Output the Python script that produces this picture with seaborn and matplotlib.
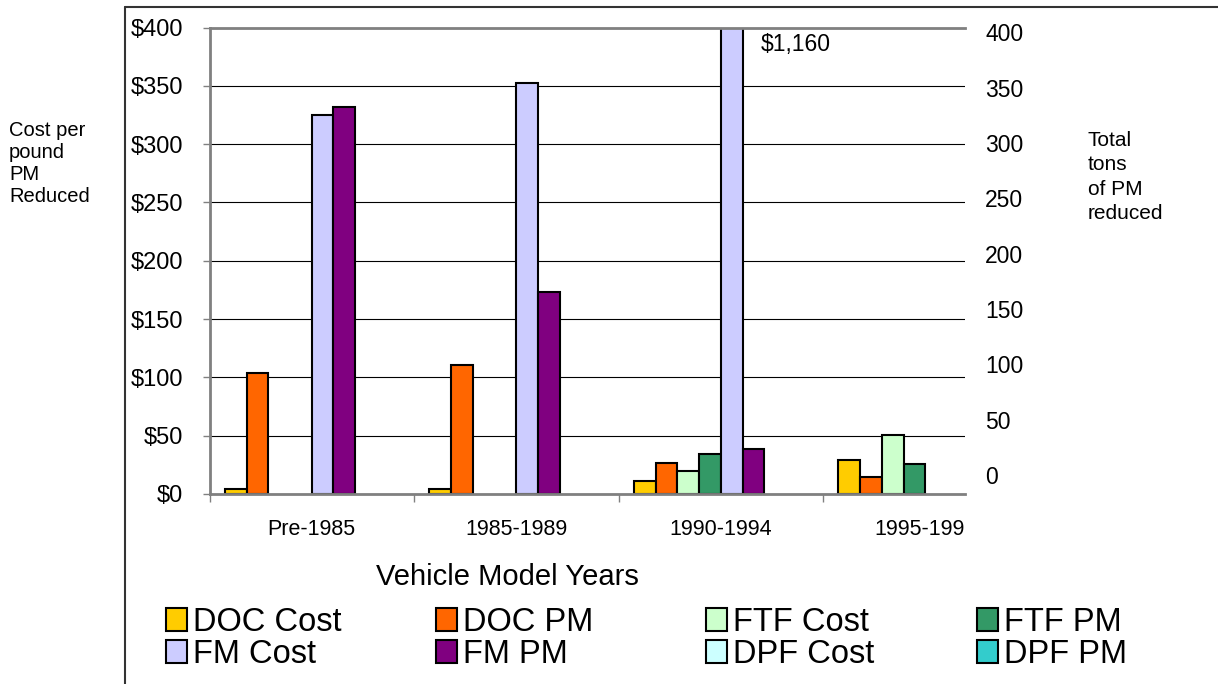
import numpy as np
import pandas as pd
import matplotlib
matplotlib.use("Agg")
import matplotlib.pyplot as plt
from matplotlib.patches import Patch
from matplotlib.lines import Line2D
from matplotlib.ticker import FixedLocator, FuncFormatter
from matplotlib.transforms import Bbox, TransformedBbox
import seaborn as sns

years = ["Pre-1985", "1985-1989", "1990-1994", "1995-1999"]
series = ["DOC Cost", "DOC PM", "FTF Cost", "FTF PM", "FM Cost", "FM PM", "DPF Cost", "DPF PM"]
colors = ["#FFCC00", "#FF6600", "#CCFFCC", "#339966", "#CCCCFF", "#800080", "#CCFFFF", "#33CCCC"]

doc_cost = [4, 4, 11, 29]
doc_pm = [104, 111, 27, 15]
ftf_cost = [np.nan, np.nan, 20, 51]
ftf_pm = [np.nan, np.nan, 34, 26]
fm_cost = [325, 352, 1160, np.nan]
fm_pm = [332, 173, 39, np.nan]
dpf_cost = [np.nan] * 4
dpf_pm = [np.nan] * 4

cost_ticks = list(range(0, 401, 50))
tons_ticks = list(range(0, 401, 50))

values = [doc_cost, doc_pm, ftf_cost, ftf_pm, fm_cost, fm_pm, dpf_cost, dpf_pm]
df = (pd.DataFrame(dict(zip(series, values)), index=years)
      .rename_axis("years").reset_index()
      .melt(id_vars="years", var_name="series", value_name="value")
      .dropna())

sns.set_style("white")
plt.rcParams["font.family"] = ["Liberation Sans", "DejaVu Sans"]
plt.rcParams.update({"text.color": "black", "axes.labelcolor": "black",
                     "xtick.color": "black", "ytick.color": "black"})

W, H = 1218, 684
fig = plt.figure(figsize=(W / 100, H / 100), dpi=100)
ax_left, ax_right, ax_top, ax_bottom = 209.5 / W, 965 / W, 1 - 27.5 / H, 1 - 494 / H
ax = fig.add_axes([ax_left, ax_bottom, ax_right - ax_left, ax_top - ax_bottom])

sns.barplot(data=df, x="years", y="value", hue="series", order=years, hue_order=series,
            palette=colors, saturation=1, width=0.85, gap=0, errorbar=None,
            edgecolor="black", linewidth=1.5, legend=False, ax=ax)

ax.set_xlim(-0.5, 3.194)
ax.set_ylim(0, 400)
ax.set_yticks(cost_ticks)
ax.yaxis.set_major_formatter(FuncFormatter(lambda v, _: f"${v:.0f}"))
ax.set_xlabel("")
ax.set_ylabel("")
ax.set_axisbelow(True)
ax.yaxis.grid(True, color="black", linewidth=0.8)
ax.xaxis.grid(False)

for side in ["left", "bottom", "top"]:
    ax.spines[side].set_color("#808080")
    ax.spines[side].set_linewidth(2)
ax.spines["right"].set_visible(False)

ax.tick_params(axis="y", left=True, length=5, width=1, color="#808080", labelcolor="black",
               pad=14, labelsize=17)
ax.tick_params(axis="x", which="major", bottom=False, length=0, pad=18, labelsize=15.5,
               labelcolor="black")
ax.xaxis.set_minor_locator(FixedLocator([-0.5, 0.5, 1.5, 2.5, 3.5]))
ax.tick_params(axis="x", which="minor", bottom=True, length=6, width=1, color="#808080")

# category labels are cut off at the right edge of the plot area
clip = TransformedBbox(Bbox([[0, 0], [ax_right, 1]]), fig.transFigure)
for lbl in ax.get_xticklabels():
    lbl.set_clip_box(clip)
    lbl.set_clip_on(True)

# secondary axis: tons of PM
ax2 = ax.twinx()
ax2.set_ylim(-17.2, 404.5)
ax2.set_yticks(tons_ticks)
ax2.grid(False)
for s in ax2.spines.values():
    s.set_visible(False)
ax2.tick_params(axis="y", right=True, length=0, pad=14.5, labelsize=16.5, labelcolor="black")

# off-scale FM cost bar label
tall = max(ax.patches, key=lambda p: p.get_height())
ax.annotate(f"${fm_cost[2]:,.0f}", xy=(tall.get_x() + tall.get_width(), 400),
            xytext=(13, -12), textcoords="offset points", ha="left", va="center",
            fontsize=16.5, annotation_clip=False)

fig.text(507 / W, 1 - 577 / H, "Vehicle Model Years", ha="center", va="center", fontsize=21)
fig.text(9 / W, 1 - 163 / H, "Cost per\npound\nPM\nReduced", ha="left", va="center",
         fontsize=14.5, linespacing=1.2)
fig.text(1088 / W, 1 - 177 / H, "Total\ntons\nof PM\nreduced", ha="left", va="center",
         fontsize=15, linespacing=1.35)

# legend laid out row-wise in four columns
handles = [Patch(facecolor=c, edgecolor="black", linewidth=1.5, label=s) for s, c in zip(series, colors)]
col_x = [166, 436, 706, 977]
for i, x in enumerate(col_x):
    fig.legend(handles=[handles[i], handles[i + 4]], loc="upper left",
               bbox_to_anchor=(x / W, 1 - 607 / H), frameon=False, fontsize=23.5,
               handlelength=0.64, handleheight=0.68, handletextpad=0.2,
               labelspacing=0.03, borderpad=0, borderaxespad=0)

# chart frame
fig.add_artist(Line2D([125 / W, 125 / W], [0, 1 - 7 / H], transform=fig.transFigure,
                      color="#333333", linewidth=1.5))
fig.add_artist(Line2D([125 / W, 1], [1 - 7 / H, 1 - 7 / H], transform=fig.transFigure,
                      color="#333333", linewidth=1.5))

fig.savefig("out.png", dpi=100)
